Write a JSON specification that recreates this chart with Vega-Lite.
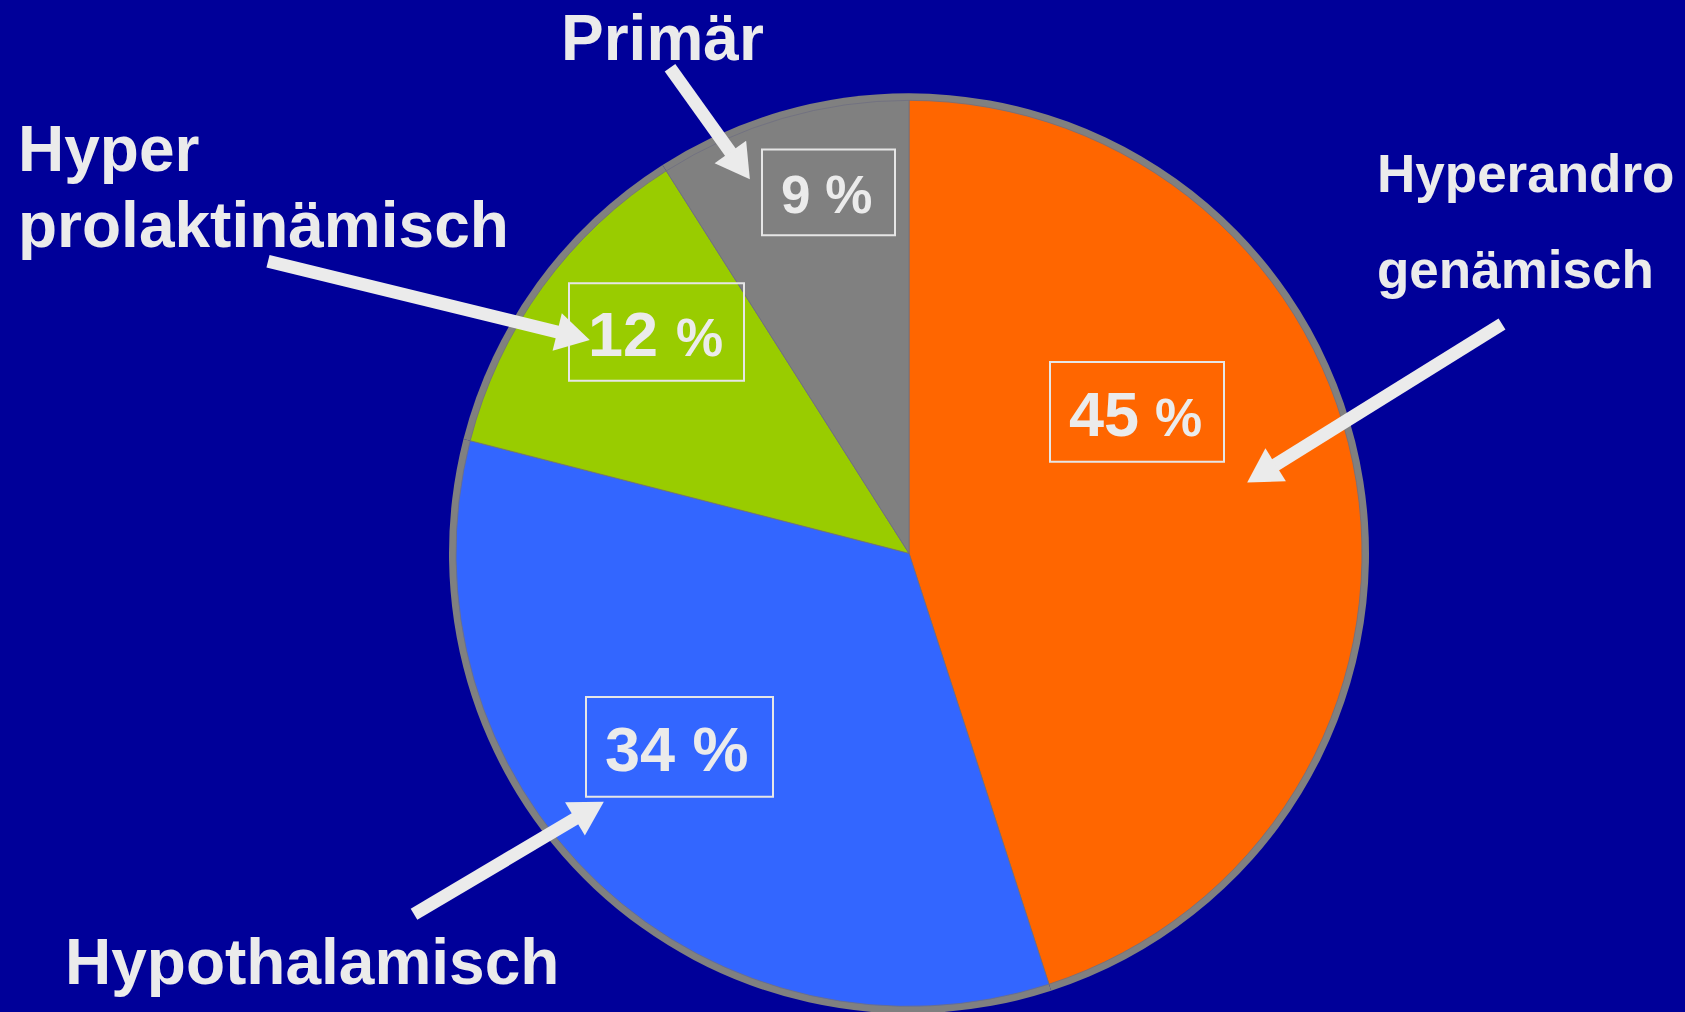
{
  "$schema": "https://vega.github.io/schema/vega-lite/v6.json",
  "width": 1685,
  "height": 1012,
  "autosize": {"type": "fit", "contains": "padding"},
  "padding": 0,
  "background": "#000099",
  "config": {"view": {"stroke": null}},
  "datasets": {
    "slices": [
      {"Kategorie": "Hyperandrogenämisch", "Anteil": 45, "o": 1},
      {"Kategorie": "Hypothalamisch", "Anteil": 34, "o": 2},
      {"Kategorie": "Hyperprolaktinämisch", "Anteil": 12, "o": 3},
      {"Kategorie": "Primär", "Anteil": 9, "o": 4}
    ],
    "names": [
      {"text": "Primär", "x": 561, "y": 60},
      {"text": "Hyper", "x": 18, "y": 172},
      {"text": "prolaktinämisch", "x": 18, "y": 248},
      {"text": "Hypothalamisch", "x": 65, "y": 987}
    ],
    "names2": [
      {"text": "Hyperandro", "x": 1377, "y": 193},
      {"text": "genämisch", "x": 1377, "y": 289}
    ],
    "boxes": [
      {"x": 762, "x2": 895, "y": 150, "y2": 236},
      {"x": 569, "x2": 744, "y": 284, "y2": 382},
      {"x": 1050, "x2": 1224, "y": 363, "y2": 463},
      {"x": 586, "x2": 773, "y": 699, "y2": 799}
    ],
    "values": [
      {"text": "45", "x": 1069, "y": 437},
      {"text": "12", "x": 588, "y": 357},
      {"text": "34 %", "x": 605, "y": 773}
    ],
    "units": [
      {"text": "%", "x": 1155, "y": 437},
      {"text": "%", "x": 676, "y": 357},
      {"text": "9 %", "x": 781, "y": 214}
    ],
    "arrows": [
      {"x": 670, "y": 68, "x2": 750, "y2": 180},
      {"x": 268, "y": 262, "x2": 590, "y2": 341},
      {"x": 1502, "y": 325, "x2": 1247, "y2": 484},
      {"x": 414, "y": 917, "x2": 604, "y2": 804}
    ]
  },
  "layer": [
    {
      "data": {"name": "slices"},
      "mark": {"type": "arc", "outerRadius": 460, "color": "#808080"},
      "encoding": {
        "theta": {"field": "Anteil", "type": "quantitative", "stack": true},
        "order": {"field": "o", "type": "quantitative"},
        "x": {"datum": 909, "type": "quantitative", "scale": {"domain": [0, 1685], "nice": false, "zero": false}, "axis": null},
        "y": {"datum": 555, "type": "quantitative", "scale": {"domain": [0, 1012], "nice": false, "zero": false, "reverse": true}, "axis": null}
      }
    },
    {
      "data": {"name": "slices"},
      "mark": {"type": "arc", "outerRadius": 453, "stroke": "#6f6f80", "strokeWidth": 0.8},
      "encoding": {
        "theta": {"field": "Anteil", "type": "quantitative", "stack": true},
        "order": {"field": "o", "type": "quantitative"},
        "color": {
          "field": "Kategorie",
          "type": "nominal",
          "scale": {
            "domain": ["Hyperandrogenämisch", "Hypothalamisch", "Hyperprolaktinämisch", "Primär"],
            "range": ["#FF6600", "#3366FF", "#99CC00", "#808080"]
          },
          "legend": null
        },
        "x": {"datum": 909, "type": "quantitative", "scale": {"domain": [0, 1685], "nice": false, "zero": false}, "axis": null},
        "y": {"datum": 555, "type": "quantitative", "scale": {"domain": [0, 1012], "nice": false, "zero": false, "reverse": true}, "axis": null}
      }
    },
    {
      "data": {"name": "boxes"},
      "mark": {"type": "rect", "fill": null, "fillOpacity": 0, "stroke": "#E6E6E6", "strokeWidth": 2},
      "encoding": {
        "x": {"field": "x", "type": "quantitative", "axis": null},
        "x2": {"field": "x2"},
        "y": {"field": "y", "type": "quantitative", "axis": null},
        "y2": {"field": "y2"}
      }
    },
    {
      "data": {"name": "arrows"},
      "transform": [
        {"calculate": "sqrt(pow(datum.x2 - datum.x, 2) + pow(datum.y2 - datum.y, 2))", "as": "len"},
        {"calculate": "datum.x2 - 17 * (datum.x2 - datum.x) / datum.len", "as": "hx"},
        {"calculate": "datum.y2 - 17 * (datum.y2 - datum.y) / datum.len", "as": "hy"}
      ],
      "mark": {"type": "rule", "color": "#EBEBEB", "strokeWidth": 13, "strokeCap": "butt"},
      "encoding": {
        "x": {"field": "x", "type": "quantitative", "axis": null},
        "y": {"field": "y", "type": "quantitative", "axis": null},
        "x2": {"field": "hx"},
        "y2": {"field": "hy"}
      }
    },
    {
      "data": {"name": "arrows"},
      "transform": [
        {"calculate": "sqrt(pow(datum.x2 - datum.x, 2) + pow(datum.y2 - datum.y, 2))", "as": "len"},
        {"calculate": "datum.x2 - 17 * (datum.x2 - datum.x) / datum.len", "as": "hx"},
        {"calculate": "datum.y2 - 17 * (datum.y2 - datum.y) / datum.len", "as": "hy"},
        {"calculate": "atan2(datum.x2 - datum.x, -(datum.y2 - datum.y)) * 180 / PI", "as": "ang"}
      ],
      "mark": {"type": "point", "shape": "triangle-up", "filled": true, "size": 1500, "color": "#EBEBEB", "opacity": 1},
      "encoding": {
        "x": {"field": "hx", "type": "quantitative", "axis": null},
        "y": {"field": "hy", "type": "quantitative", "axis": null},
        "angle": {"field": "ang", "type": "quantitative", "scale": null}
      }
    },
    {
      "data": {"name": "names"},
      "mark": {"type": "text", "font": "Liberation Sans", "fontWeight": "bold", "fontSize": 64, "align": "left", "baseline": "alphabetic", "color": "#EBEBEB"},
      "encoding": {
        "x": {"field": "x", "type": "quantitative", "axis": null},
        "y": {"field": "y", "type": "quantitative", "axis": null},
        "text": {"field": "text"}
      }
    },
    {
      "data": {"name": "names2"},
      "mark": {"type": "text", "font": "Liberation Sans", "fontWeight": "bold", "fontSize": 53, "align": "left", "baseline": "alphabetic", "color": "#EBEBEB"},
      "encoding": {
        "x": {"field": "x", "type": "quantitative", "axis": null},
        "y": {"field": "y", "type": "quantitative", "axis": null},
        "text": {"field": "text"}
      }
    },
    {
      "data": {"name": "values"},
      "mark": {"type": "text", "font": "Liberation Sans", "fontWeight": "bold", "fontSize": 63, "align": "left", "baseline": "alphabetic", "color": "#EBEBEB"},
      "encoding": {
        "x": {"field": "x", "type": "quantitative", "axis": null},
        "y": {"field": "y", "type": "quantitative", "axis": null},
        "text": {"field": "text"}
      }
    },
    {
      "data": {"name": "units"},
      "mark": {"type": "text", "font": "Liberation Sans", "fontWeight": "bold", "fontSize": 53, "align": "left", "baseline": "alphabetic", "color": "#EBEBEB"},
      "encoding": {
        "x": {"field": "x", "type": "quantitative", "axis": null},
        "y": {"field": "y", "type": "quantitative", "axis": null},
        "text": {"field": "text"}
      }
    }
  ]
}
